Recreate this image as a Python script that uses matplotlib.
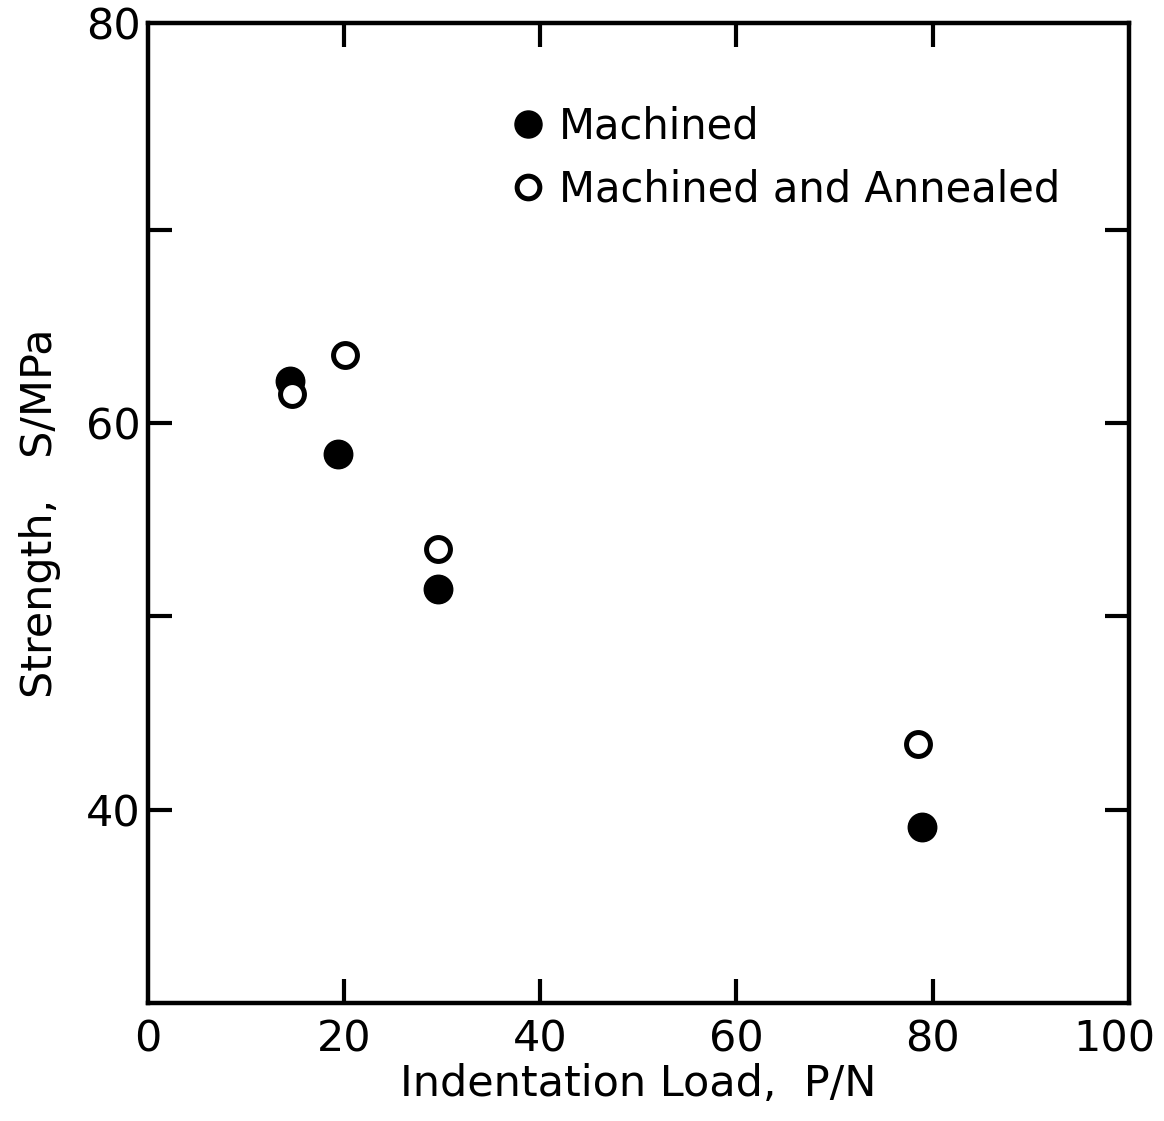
import matplotlib
matplotlib.use('Agg')
import matplotlib.pyplot as plt
import matplotlib.transforms as mtransforms

# Indentation load (N) and strength (MPa)
machined_load = [14.5, 19.4, 29.6, 78.9]
machined_strength = [62.2, 58.4, 51.4, 39.1]
annealed_load = [14.7, 20.1, 29.6, 78.5]
annealed_strength = [61.5, 63.5, 53.5, 43.4]

x_ticks = [0, 20, 40, 60, 80, 100]
x_labels = ['0', '20', '40', '60', '80', '100']
y_ticks = [40, 50, 60, 70, 80.7]
y_labels = ['40', '', '60', '', '80']

plt.rcParams['font.family'] = ['DejaVu Sans']

fig = plt.figure(figsize=(11.64, 11.21), dpi=100)
ax = fig.add_axes([0.1271, 0.1053, 0.8426, 0.8742])

ax.plot(machined_load, machined_strength, 'o', color='black',
        markersize=20.5, markeredgewidth=1.0, label='Machined')
ax.plot(annealed_load, annealed_strength, 'o', markerfacecolor='white',
        markeredgecolor='black', markersize=17.2, markeredgewidth=3.6,
        label='Machined and Annealed')

ax.set_xlim(0, 100)
ax.set_ylim(30, 80.7)
ax.set_xticks(x_ticks)
ax.set_xticklabels(x_labels)
ax.set_yticks(y_ticks)
ax.set_yticklabels(y_labels)

for s in ax.spines.values():
    s.set_linewidth(3.2)

ax.tick_params(axis='both', direction='in', length=17, width=3.0,
               top=True, right=True, labelsize=31)
ax.tick_params(axis='x', pad=11)
ax.tick_params(axis='y', pad=5)
# no visible tick marks at the frame ends
for t in ax.xaxis.get_major_ticks()[::5]:
    t.tick1line.set_visible(False)
    t.tick2line.set_visible(False)
ax.yaxis.get_major_ticks()[-1].tick1line.set_visible(False)
ax.yaxis.get_major_ticks()[-1].tick2line.set_visible(False)

# "100" sits a little left of its tick in the original
lab100 = ax.get_xticklabels()[-1]
lab100.set_transform(lab100.get_transform() +
                     mtransforms.ScaledTranslation(-14 / 100, 0, fig.dpi_scale_trans))

ax.set_xlabel('Indentation Load,  P/N', fontsize=31, labelpad=2)
ax.set_ylabel('Strength,   S/MPa', fontsize=31, labelpad=18)

ax.legend(loc='upper left', bbox_to_anchor=(0.347, 0.937), frameon=False,
          fontsize=30, handlelength=0.9, handletextpad=0.3,
          labelspacing=0.5, borderpad=0, markerscale=0.95)

fig.savefig('out.png', dpi=100, facecolor='white')
